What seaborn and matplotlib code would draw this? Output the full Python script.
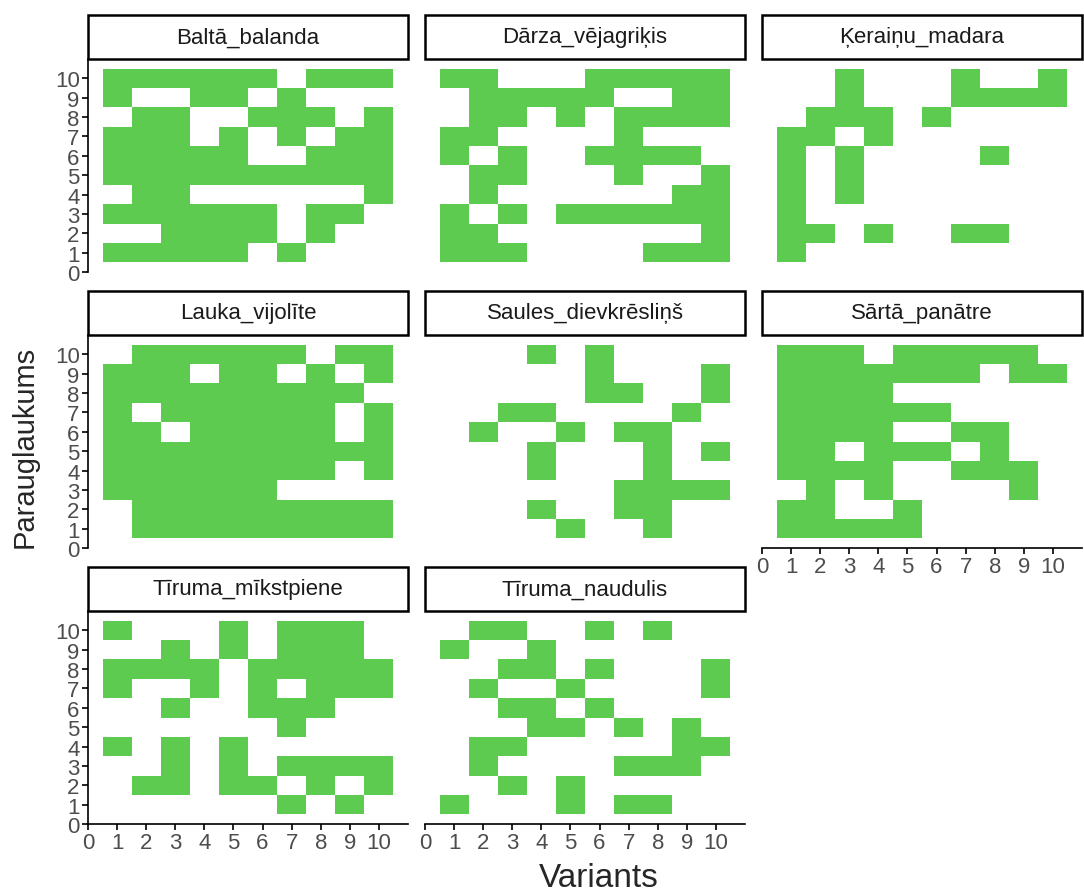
import numpy as np
import pandas as pd
import matplotlib
matplotlib.use("Agg")
import matplotlib.pyplot as plt
import seaborn as sns
from matplotlib.patches import Rectangle

# sugas paneļu secībā
sugas = [
    "Baltā_balanda", "Dārza_vējagriķis", "Ķeraiņu_madara",
    "Lauka_vijolīte", "Saules_dievkrēsliņš", "Sārtā_panātre",
    "Tīruma_mīkstpiene", "Tīruma_naudulis",
]

# parauglaukumi no 10 līdz 1, katrā rindā varianti, kur suga atrasta
parauglaukumi = list(range(10, 0, -1))

balta_balanda = [
    [1, 2, 3, 4, 5, 6, 8, 9, 10], [1, 4, 5, 7], [2, 3, 6, 7, 8, 10],
    [1, 2, 3, 5, 7, 9, 10], [1, 2, 3, 4, 5, 8, 9, 10],
    [1, 2, 3, 4, 5, 6, 7, 8, 9, 10], [2, 3, 10], [1, 2, 3, 4, 5, 6, 8, 9],
    [3, 4, 5, 6, 8], [1, 2, 3, 4, 5, 7],
]
darza_vejagrikis = [
    [1, 2, 6, 7, 8, 9, 10], [2, 3, 4, 5, 6, 9, 10], [2, 3, 5, 7, 8, 9, 10],
    [1, 2, 7], [1, 3, 6, 7, 8, 9], [2, 3, 7, 10], [2, 9, 10],
    [1, 3, 5, 6, 7, 8, 9, 10], [1, 2, 10], [1, 2, 3, 8, 9, 10],
]
kerainu_madara = [
    [3, 7, 10], [3, 7, 8, 9, 10], [2, 3, 4, 6], [1, 2, 4], [1, 3, 8],
    [1, 3], [1, 3], [1], [1, 2, 4, 7, 8], [1],
]
lauka_vijolite = [
    [2, 3, 4, 5, 6, 7, 9, 10], [1, 2, 3, 5, 6, 8, 10], [1, 2, 3, 4, 5, 6, 7, 8, 9],
    [1, 3, 4, 5, 6, 7, 8, 10], [1, 2, 4, 5, 6, 7, 8, 10],
    [1, 2, 3, 4, 5, 6, 7, 8, 9, 10], [1, 2, 3, 4, 5, 6, 7, 8, 10],
    [1, 2, 3, 4, 5, 6], [2, 3, 4, 5, 6, 7, 8, 9, 10], [2, 3, 4, 5, 6, 7, 8, 9, 10],
]
saules_dievkreslins = [
    [4, 6], [6, 10], [6, 7, 10], [3, 4, 9], [2, 5, 7, 8],
    [4, 8, 10], [4, 8], [7, 8, 9, 10], [4, 7, 8], [5, 8],
]
sarta_panatre = [
    [1, 2, 3, 5, 6, 7, 8, 9], [1, 2, 3, 4, 5, 6, 7, 9, 10], [1, 2, 3, 4],
    [1, 2, 3, 4, 5, 6], [1, 2, 3, 4, 7, 8], [1, 2, 4, 5, 6, 8],
    [1, 2, 3, 4, 7, 8, 9], [2, 4, 9], [1, 2, 5], [1, 2, 3, 4, 5],
]
tiruma_mikstpiene = [
    [1, 5, 7, 8, 9], [3, 5, 7, 8, 9], [1, 2, 3, 4, 6, 7, 8, 9, 10],
    [1, 4, 6, 8, 9, 10], [3, 6, 7, 8], [7], [1, 3, 5],
    [3, 5, 7, 8, 9, 10], [2, 3, 5, 6, 8, 10], [7, 9],
]
tiruma_naudulis = [
    [2, 3, 6, 8], [1, 4], [3, 4, 6, 10], [2, 5, 10], [3, 4, 6],
    [4, 5, 7, 9], [2, 3, 9, 10], [2, 7, 8, 9], [3, 5], [1, 5, 7, 8],
]

visas = [balta_balanda, darza_vejagrikis, kerainu_madara, lauka_vijolite,
         saules_dievkreslins, sarta_panatre, tiruma_mikstpiene, tiruma_naudulis]

ieraksti = []
for suga, rezgis in zip(sugas, visas):
    for y, varianti in zip(parauglaukumi, rezgis):
        for x in varianti:
            ieraksti.append({"Suga": suga, "Variants": x, "Parauglaukums": y})
dati = pd.DataFrame(ieraksti)

zala = "#5DCB4F"

sns.set_theme(style="white")
plt.rcParams["font.family"] = ["Liberation Sans", "DejaVu Sans"]

g = sns.FacetGrid(dati, col="Suga", col_wrap=3, col_order=sugas,
                  sharex=True, sharey=True, height=2.13, aspect=320 / 213)


def flizes(data, color=None, **kws):
    plt.bar(data["Variants"], 1, width=1, bottom=data["Parauglaukums"] - 0.5,
            color=zala, linewidth=0)


g.map_dataframe(flizes)
g.set(xlim=(0, 11), ylim=(0, 11), xticks=range(11), yticks=range(11))
g.set_titles("")
g.set_axis_labels("", "")

for i, (ax, suga) in enumerate(zip(g.axes.flat, sugas)):
    kreisa = i % 3 == 0
    apaksa = i >= 5
    for s in ["top", "right"]:
        ax.spines[s].set_visible(False)
    ax.spines["left"].set_visible(kreisa)
    ax.spines["bottom"].set_visible(apaksa)
    for s in ["left", "bottom"]:
        ax.spines[s].set_color("black")
        ax.spines[s].set_linewidth(1.2)
    ax.tick_params(left=kreisa, labelleft=kreisa, bottom=apaksa, labelbottom=apaksa,
                   length=4, width=1.2, color="black", labelcolor="#4D4D4D",
                   labelsize=16, pad=2)
    # josla ar sugas nosaukumu
    ax.add_patch(Rectangle((0, 1.0), 1, 0.207, transform=ax.transAxes, clip_on=False,
                           facecolor="white", edgecolor="black", linewidth=1.8))
    ax.text(0.5, 1.1035, suga, transform=ax.transAxes, ha="center", va="center",
            fontsize=16, color="#1A1A1A")

fig = g.figure
fig.set_size_inches(10.84, 8.95)
fig.subplots_adjust(left=88 / 1084, right=1082 / 1084, top=1 - 60 / 895,
                    bottom=1 - 825 / 895, wspace=0.053, hspace=0.296)
fig.text(599 / 1084, 1 - 879 / 895, "Variants", ha="center", va="center", fontsize=24)
fig.text(25 / 1084, 1 - 447 / 895, "Parauglaukums", ha="center", va="center",
         rotation=90, fontsize=21)

fig.savefig("out.png", dpi=100)
